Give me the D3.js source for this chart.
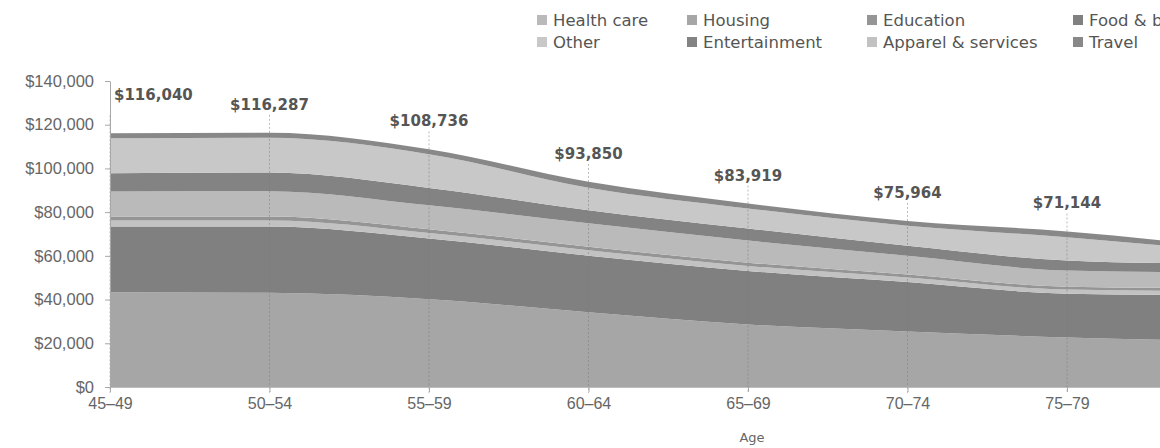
<!DOCTYPE html>
<html>
<head>
<meta charset="utf-8">
<script src="https://cdn.jsdelivr.net/npm/d3@7"></script>
<style>
  html, body { margin: 0; padding: 0; background: #fff; overflow: hidden; }
  svg { display: block; font-family: "DejaVu Sans", sans-serif; }
</style>
</head>
<body>
<svg id="chart" width="1160" height="448"></svg>
<script>
// Annual household spending by age group, stacked by category (bottom to top)
const ageGroups = ["45–49", "50–54", "55–59", "60–64", "65–69", "70–74", "75–79", "80+"];

const housing       = [43400, 43100, 40200, 34200, 28600, 25400, 22700, 21000];
const food          = [30000, 30300, 27700, 25900, 24500, 22600, 20000, 21000];
const apparel       = [ 2800,  2800,  2600,  2500,  2300,  2100,  1900,  1900];
const education     = [ 1800,  1800,  1700,  1600,  1500,  1400,  1300,  1300];
const healthCare    = [11500, 11600, 10900, 10700, 10100,  8500,  7400,  7200];
const entertainment = [ 8300,  8500,  8000,  6000,  5500,  4600,  4600,  3900];
const other         = [16000, 15900, 15400, 10300,  9200,  9200, 10600,  5700];
const travel        = [ 2240,  2287,  2236,  2650,  2219,  2164,  2644,  2000];

const seriesNames = ["Housing", "Food & beverages", "Apparel & services", "Education",
                     "Health care", "Entertainment", "Other", "Travel"];
const seriesValues = [housing, food, apparel, education, healthCare, entertainment, other, travel];

const yTickValues = [0, 20000, 40000, 60000, 80000, 100000, 120000, 140000];

// the 80+ group runs past the right edge of the frame, so only these are labelled
const labelledGroups = ageGroups.slice(0, 7);

// Legend reads row by row, four entries per row
const legendOrder = ["Health care", "Housing", "Education", "Food & beverages",
                     "Other", "Entertainment", "Apparel & services", "Travel"];

// ---- styling ----
const shade = {
  "Housing": "#a6a6a6",
  "Food & beverages": "#808080",
  "Apparel & services": "#c2c2c2",
  "Education": "#959595",
  "Health care": "#bababa",
  "Entertainment": "#838383",
  "Other": "#c8c8c8",
  "Travel": "#888888"
};

const svg = d3.select("#chart");
const plotLeft = 110, catStep = 159.5;
const plotTop = 81, plotBottom = 387;

const rows = ageGroups.map((g, i) => {
  const r = { age: g };
  seriesNames.forEach((n, k) => r[n] = seriesValues[k][i]);
  return r;
});
const totals = rows.map(r => d3.sum(seriesNames, n => r[n]));

const x = d3.scalePoint()
  .domain(ageGroups)
  .range([plotLeft, plotLeft + catStep * (ageGroups.length - 1)]);

const y = d3.scaleLinear()
  .domain([0, 140000])
  .range([plotBottom, plotTop]);

const stacked = d3.stack().keys(seriesNames)(rows);

const area = d3.area()
  .x(d => x(d.data.age))
  .y0(d => y(d[0]))
  .y1(d => y(d[1]))
  .curve(d3.curveMonotoneX);

svg.append("g")
  .selectAll("path")
  .data(stacked)
  .join("path")
  .attr("fill", s => shade[s.key])
  .attr("d", area);

// drop lines from each total label down to the axis
svg.append("g")
  .selectAll("line")
  .data(labelledGroups)
  .join("line")
  .attr("x1", d => x(d)).attr("x2", d => x(d))
  .attr("y1", (d, i) => y(totals[i]) - 18)
  .attr("y2", plotBottom + 6)
  .attr("stroke", "#7a7a7a")
  .attr("stroke-width", 1)
  .attr("stroke-dasharray", "2,2")
  .attr("opacity", 0.5);

// y axis
const yAxis = svg.append("g")
  .attr("transform", `translate(${plotLeft},0)`)
  .call(d3.axisLeft(y)
    .tickValues(yTickValues)
    .tickFormat(d => "$" + d3.format(",")(d))
    .tickSize(5)
    .tickSizeOuter(0)
    .tickPadding(11));
yAxis.select(".domain").attr("stroke", "#a8a8a8");
yAxis.selectAll(".tick line").attr("stroke", "#a8a8a8");
yAxis.selectAll("text")
  .attr("fill", "#666")
  .style("font-size", "16.5px");

// x axis
const xAxis = svg.append("g")
  .attr("transform", `translate(0,${plotBottom})`)
  .call(d3.axisBottom(x)
    .tickValues(labelledGroups)
    .tickSize(5)
    .tickSizeOuter(0)
    .tickPadding(6));
xAxis.select(".domain").attr("stroke", "#bdbdbd");
xAxis.selectAll(".tick line").attr("stroke", "#a8a8a8");
xAxis.selectAll("text")
  .attr("fill", "#666")
  .style("font-size", "16px");

svg.append("text")
  .attr("x", 752).attr("y", 442)
  .attr("text-anchor", "middle")
  .attr("fill", "#666")
  .style("font-size", "13px")
  .text("Age");

// total labels above each age group; the first sits clear of the axis
svg.append("g")
  .selectAll("text")
  .data(labelledGroups)
  .join("text")
  .attr("x", (d, i) => i === 0 ? x(d) + 4 : x(d))
  .attr("y", (d, i) => y(totals[i]) - (i === 0 ? 33 : 23))
  .attr("text-anchor", (d, i) => i === 0 ? "start" : "middle")
  .attr("fill", "#555")
  .style("font-size", "15px")
  .style("font-weight", "bold")
  .text((d, i) => "$" + d3.format(",")(totals[i]));

// legend
const legendCols = [537, 687, 867, 1073];
const legendRows = [20, 42];
const legend = svg.append("g")
  .selectAll("g")
  .data(legendOrder)
  .join("g")
  .attr("transform", (d, i) => `translate(${legendCols[i % 4]},${legendRows[Math.floor(i / 4)]})`);
legend.append("rect")
  .attr("x", 0).attr("y", -5)
  .attr("width", 10).attr("height", 10)
  .attr("fill", d => shade[d]);
legend.append("text")
  .attr("x", 16).attr("y", 0)
  .attr("dy", "0.35em")
  .attr("fill", "#555")
  .style("font-size", "16.5px")
  .text(d => d);
</script>
</body>
</html>
